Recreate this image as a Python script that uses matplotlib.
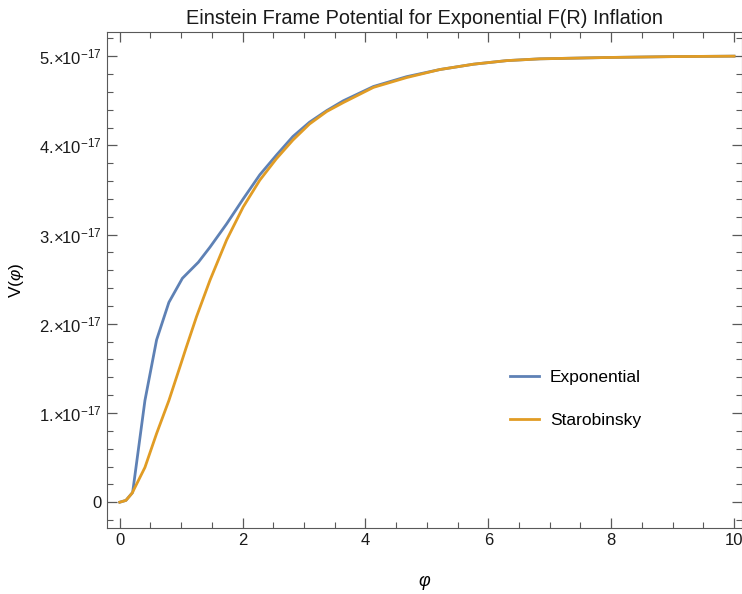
import numpy as np
import matplotlib
matplotlib.use("Agg")
import matplotlib.pyplot as plt
from matplotlib.ticker import MultipleLocator, FixedLocator

plt.rcParams['font.family'] = ['Liberation Sans', 'DejaVu Sans']
plt.rcParams['mathtext.fontset'] = 'custom'
plt.rcParams['mathtext.rm'] = 'Liberation Sans'
plt.rcParams['mathtext.it'] = 'Liberation Sans:italic'

# values (units of 1e-17)
phi_exp = [0, 0.1, 0.21, 0.41, 0.6, 0.8, 1.02, 1.28, 1.47, 1.74, 2.01, 2.28, 2.55,
           2.82, 3.09, 3.37, 3.64, 4.13, 4.67, 5.21, 5.76, 6.3, 6.84, 7.93, 9.0, 10.0]
v_exp = [0, 0.02, 0.11, 1.14, 1.82, 2.24, 2.51, 2.69, 2.86, 3.12, 3.40, 3.67, 3.89,
         4.10, 4.26, 4.39, 4.50, 4.66, 4.77, 4.85, 4.91, 4.95, 4.97, 4.985, 4.995, 5.0]

phi_star = [0, 0.1, 0.2, 0.41, 0.6, 0.8, 1.0, 1.08, 1.25, 1.47, 1.74, 2.01, 2.28, 2.55,
            2.82, 3.09, 3.37, 3.64, 4.13, 4.67, 5.21, 5.76, 6.3, 6.84, 7.93, 9.0, 10.0]
v_star = [0, 0.02, 0.1, 0.39, 0.77, 1.14, 1.56, 1.73, 2.08, 2.49, 2.94, 3.31, 3.61, 3.85,
          4.06, 4.24, 4.38, 4.48, 4.65, 4.76, 4.85, 4.91, 4.95, 4.97, 4.985, 4.995, 5.0]

fig = plt.figure(figsize=(7.42, 5.94), dpi=100)
ax = fig.add_axes([0.144, 0.111, 0.856, 0.835])

ax.plot(phi_exp, np.array(v_exp) * 1e-17, color='#5E81B5', lw=2.0, label='Exponential')
ax.plot(phi_star, np.array(v_star) * 1e-17, color='#E19C24', lw=2.0, label='Starobinsky')

ax.set_xlim(-0.21, 10.13)
ax.set_ylim(-0.29e-17, 5.27e-17)

ax.xaxis.set_major_locator(MultipleLocator(2))
ax.xaxis.set_minor_locator(MultipleLocator(0.5))
yt = [i * 1e-17 for i in range(6)]
ax.yaxis.set_major_locator(FixedLocator(yt))
ax.yaxis.set_minor_locator(FixedLocator([i * 0.2e-17 for i in range(-1, 27)]))
ylabels = ['0'] + [r'$%d.\!\!\times\!\!10^{-17}$' % i for i in range(1, 6)]
ax.set_yticklabels(ylabels)

for s in ax.spines.values():
    s.set_color('0.35')
ax.tick_params(which='both', direction='in', top=True, right=True, color='0.35',
               labelsize=12, labelcolor='0.1')
ax.tick_params(axis='y', labelsize=12)
ax.tick_params(which='major', length=7, width=0.9)
ax.tick_params(which='minor', length=4, width=0.8)

ax.set_title('Einstein Frame Potential for Exponential F(R) Inflation', fontsize=14.3, color='0.1', pad=6)
ax.set_xlabel(r'$\varphi$', fontsize=13, labelpad=18)
ax.set_ylabel(r'V($\varphi$)', fontsize=12.5, labelpad=10)

ax.legend(loc='center left', bbox_to_anchor=(0.61, 0.26), frameon=False, fontsize=12.5,
          handlelength=1.7, labelspacing=1.6, handletextpad=0.6)

fig.savefig('out.png', dpi=100)
